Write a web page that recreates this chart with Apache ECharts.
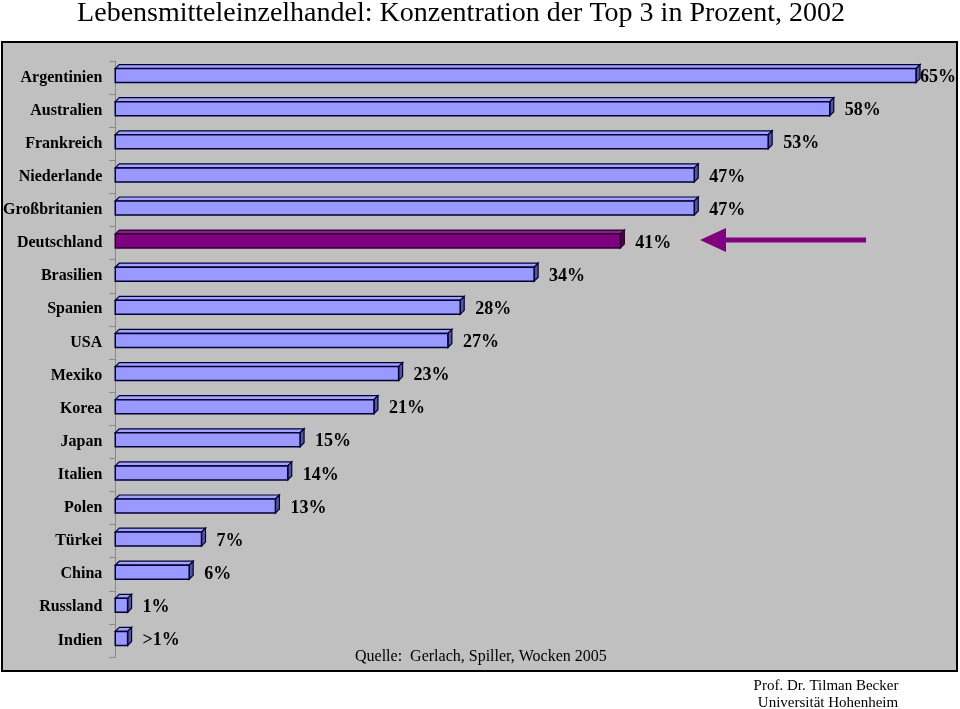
<!DOCTYPE html>
<html><head><meta charset="utf-8">
<script src="https://cdn.jsdelivr.net/npm/echarts@6/dist/echarts.min.js"></script>
<style>html,body{margin:0;padding:0;background:#fff}#c{width:960px;height:709px}</style>
</head><body><div id="c"></div>
<script>
const countries = ['Argentinien','Australien','Frankreich','Niederlande','Großbritanien','Deutschland','Brasilien','Spanien','USA','Mexiko','Korea','Japan','Italien','Polen','Türkei','China','Russland','Indien'];
const shares = [65,58,53,47,47,41,34,28,27,23,21,15,14,13,7,6,1,1];
const shareLabels = ['65%','58%','53%','47%','47%','41%','34%','28%','27%','23%','21%','15%','14%','13%','7%','6%','1%','>1%'];
const highlight = 'Deutschland';

const chart = echarts.init(document.getElementById('c'), null, {renderer:'canvas'});
const serif = '"Liberation Serif","Times New Roman",serif';
const data = shares.map((v,i)=>[v,i]);
const W = 960;

function renderItem(params, api){
  const v = api.value(0), idx = api.value(1);
  const p0 = api.coord([0, idx]), p1 = api.coord([v, idx]);
  const h = 14, d = 4;
  const x0 = p0[0], x1 = p1[0], yc = p0[1]-2;
  const y0 = yc - h/2, y1 = yc + h/2;
  const hl = countries[idx] === highlight;
  const front = hl ? '#800080' : '#9999FF';
  const top = hl ? '#8a1a8a' : '#a3a3ff';
  const side = hl ? '#4a004a' : '#55559a';
  const stroke = hl ? '#2a002a' : '#000033';
  const lx = Math.min(x1+d+11, W-40);
  return {type:'group', children:[
    {type:'polygon', shape:{points:[[x0,y0],[x0+d,y0-d],[x1+d,y0-d],[x1,y0]]}, style:{fill:top, stroke:stroke, lineWidth:1.2}},
    {type:'polygon', shape:{points:[[x1,y0],[x1+d,y0-d],[x1+d,y1-d],[x1,y1]]}, style:{fill:side, stroke:stroke, lineWidth:1.2}},
    {type:'rect', shape:{x:x0, y:y0, width:x1-x0, height:h}, style:{fill:front, stroke:stroke, lineWidth:1.5}},
    {type:'text', x:lx, y:p0[1], style:{text:shareLabels[idx], fill:'#000', font:'bold 18px '+serif, textVerticalAlign:'middle', textAlign:'left'}}
  ]};
}

chart.setOption({
  animation:false,
  backgroundColor:'#fff',
  graphic:[
    {id:'panel', type:'rect', z:-10, shape:{x:2,y:42,width:955,height:629}, style:{fill:'#C0C0C0', stroke:'#000', lineWidth:2}},
    {id:'title', type:'text', x:461, y:14, style:{text:'Lebensmitteleinzelhandel: Konzentration der Top 3 in Prozent, 2002', fill:'#000', font:'28px '+serif, textAlign:'center', textVerticalAlign:'middle'}},
    {id:'src', type:'text', x:355, y:657, style:{text:'Quelle:  Gerlach, Spiller, Wocken 2005', fill:'#000', font:'16px '+serif, textVerticalAlign:'middle'}},
    {id:'prof', type:'text', x:826, y:686, style:{text:'Prof. Dr. Tilman Becker', fill:'#000', font:'15px '+serif, textAlign:'center', textVerticalAlign:'middle'}},
    {id:'uni', type:'text', x:828, y:703, style:{text:'Universität Hohenheim', fill:'#000', font:'15px '+serif, textAlign:'center', textVerticalAlign:'middle'}}
  ],
  grid:{left:113, right:44, top:61, bottom:52},
  xAxis:{type:'value', min:0, max:65, show:false},
  yAxis:{type:'category', data:countries, inverse:true, offset:4,
    axisLine:{show:true, lineStyle:{color:'#888', width:1}},
    axisTick:{show:true, length:6, lineStyle:{color:'#888'}},
    axisLabel:{color:'#000', fontFamily:serif, fontSize:16, fontWeight:'bold', margin:9}
  },
  series:[{type:'custom', renderItem, data, encode:{x:0,y:1}, clip:false}]
});

const py = chart.convertToPixel({gridIndex:0}, [0, countries.indexOf(highlight)])[1];
chart.setOption({graphic:[
  {id:'arrowLine', type:'line', shape:{x1:866,y1:py-3,x2:722,y2:py-3}, style:{stroke:'#800080', lineWidth:5}},
  {id:'arrowHead', type:'polygon', shape:{points:[[700,py-3],[726,py-15],[726,py+9]]}, style:{fill:'#800080'}}
]});
</script></body></html>
